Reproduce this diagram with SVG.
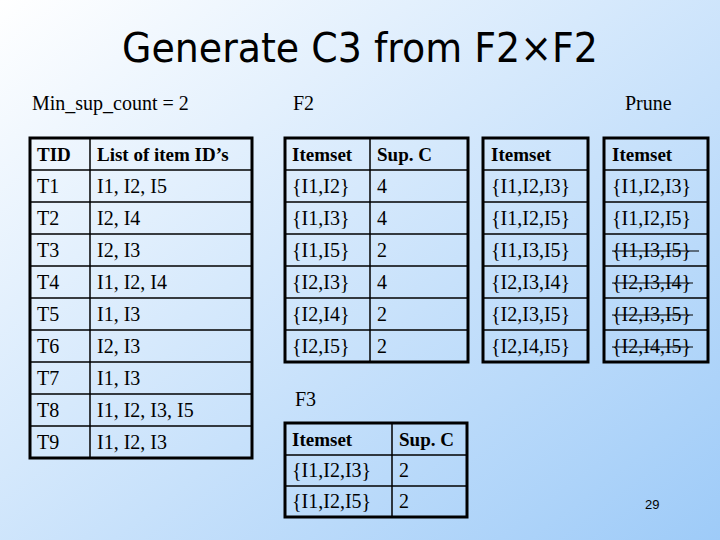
<svg xmlns="http://www.w3.org/2000/svg" width="720" height="540" viewBox="0 0 720 540">
<defs>
<linearGradient id="bg" x1="0" y1="0" x2="1" y2="1">
<stop offset="0" stop-color="#ffffff"/><stop offset="1" stop-color="#9ecbf8"/>
</linearGradient>
<style>
.t{font-family:"Liberation Serif",serif;font-size:20px;fill:#000}
.h{font-weight:bold;font-size:19px}
.o{fill:none;stroke:#000;stroke-width:3}
.g{stroke:#000;stroke-width:1.5}
.s{stroke:#000;stroke-width:1.2}
</style>
</defs>
<rect width="720" height="540" fill="url(#bg)"/>
<text x="360" y="62" text-anchor="middle" font-family="DejaVu Sans,sans-serif" font-size="40" textLength="476" lengthAdjust="spacingAndGlyphs">Generate C3 from F2×F2</text>
<text class="t" x="32" y="110" font-size="19">Min_sup_count = 2</text>
<text class="t" x="293" y="110">F2</text>
<text class="t" x="625" y="110">Prune</text>
<text class="t" x="295" y="406">F3</text>
<text x="645" y="509" font-family="Liberation Sans,sans-serif" font-size="13">29</text>

<g id="tid-table">
<rect class="o" x="30" y="138" width="222" height="320"/>
<g class="g"><line x1="90" y1="138" x2="90" y2="458"/>
<line x1="30" y1="170" x2="252" y2="170"/><line x1="30" y1="202" x2="252" y2="202"/><line x1="30" y1="234" x2="252" y2="234"/><line x1="30" y1="266" x2="252" y2="266"/><line x1="30" y1="298" x2="252" y2="298"/><line x1="30" y1="330" x2="252" y2="330"/><line x1="30" y1="362" x2="252" y2="362"/><line x1="30" y1="394" x2="252" y2="394"/><line x1="30" y1="426" x2="252" y2="426"/></g>
<text class="t h" x="37" y="161">TID</text><text class="t h" x="97" y="161">List of item ID’s</text>
<text class="t" x="37" y="193">T1</text><text class="t" x="97" y="193">I1, I2, I5</text>
<text class="t" x="37" y="225">T2</text><text class="t" x="97" y="225">I2, I4</text>
<text class="t" x="37" y="257">T3</text><text class="t" x="97" y="257">I2, I3</text>
<text class="t" x="37" y="289">T4</text><text class="t" x="97" y="289">I1, I2, I4</text>
<text class="t" x="37" y="321">T5</text><text class="t" x="97" y="321">I1, I3</text>
<text class="t" x="37" y="353">T6</text><text class="t" x="97" y="353">I2, I3</text>
<text class="t" x="37" y="385">T7</text><text class="t" x="97" y="385">I1, I3</text>
<text class="t" x="37" y="417">T8</text><text class="t" x="97" y="417">I1, I2, I3, I5</text>
<text class="t" x="37" y="449">T9</text><text class="t" x="97" y="449">I1, I2, I3</text>
</g>

<g id="f2-table">
<rect class="o" x="285" y="138" width="183" height="224"/>
<g class="g"><line x1="370" y1="138" x2="370" y2="362"/>
<line x1="285" y1="170" x2="468" y2="170"/><line x1="285" y1="202" x2="468" y2="202"/><line x1="285" y1="234" x2="468" y2="234"/><line x1="285" y1="266" x2="468" y2="266"/><line x1="285" y1="298" x2="468" y2="298"/><line x1="285" y1="330" x2="468" y2="330"/></g>
<text class="t h" x="292" y="161">Itemset</text><text class="t h" x="377" y="161">Sup. C</text>
<text class="t" x="292" y="193">{I1,I2}</text><text class="t" x="377" y="193">4</text>
<text class="t" x="292" y="225">{I1,I3}</text><text class="t" x="377" y="225">4</text>
<text class="t" x="292" y="257">{I1,I5}</text><text class="t" x="377" y="257">2</text>
<text class="t" x="292" y="289">{I2,I3}</text><text class="t" x="377" y="289">4</text>
<text class="t" x="292" y="321">{I2,I4}</text><text class="t" x="377" y="321">2</text>
<text class="t" x="292" y="353">{I2,I5}</text><text class="t" x="377" y="353">2</text>
</g>

<g id="c3-table">
<rect class="o" x="483" y="138" width="105" height="224"/>
<g class="g"><line x1="483" y1="170" x2="588" y2="170"/><line x1="483" y1="202" x2="588" y2="202"/><line x1="483" y1="234" x2="588" y2="234"/><line x1="483" y1="266" x2="588" y2="266"/><line x1="483" y1="298" x2="588" y2="298"/><line x1="483" y1="330" x2="588" y2="330"/></g>
<text class="t h" x="491" y="161">Itemset</text>
<text class="t" x="491" y="193">{I1,I2,I3}</text>
<text class="t" x="491" y="225">{I1,I2,I5}</text>
<text class="t" x="491" y="257">{I1,I3,I5}</text>
<text class="t" x="491" y="289">{I2,I3,I4}</text>
<text class="t" x="491" y="321">{I2,I3,I5}</text>
<text class="t" x="491" y="353">{I2,I4,I5}</text>
</g>

<g id="prune-table">
<rect class="o" x="604" y="138" width="104" height="224"/>
<g class="g"><line x1="604" y1="170" x2="708" y2="170"/><line x1="604" y1="202" x2="708" y2="202"/><line x1="604" y1="234" x2="708" y2="234"/><line x1="604" y1="266" x2="708" y2="266"/><line x1="604" y1="298" x2="708" y2="298"/><line x1="604" y1="330" x2="708" y2="330"/></g>
<text class="t h" x="612" y="161">Itemset</text>
<text class="t" x="612" y="193">{I1,I2,I3}</text>
<text class="t" x="612" y="225">{I1,I2,I5}</text>
<text class="t" x="612" y="257">{I1,I3,I5}</text>
<text class="t" x="612" y="289">{I2,I3,I4}</text>
<text class="t" x="612" y="321">{I2,I3,I5}</text>
<text class="t" x="612" y="353">{I2,I4,I5}</text>
<g class="s"><line x1="612" y1="251" x2="699" y2="251"/><line x1="612" y1="283" x2="693" y2="283"/><line x1="612" y1="315" x2="693" y2="315"/><line x1="612" y1="347" x2="693" y2="347"/></g>
</g>

<g id="f3-table">
<rect class="o" x="285" y="423" width="182" height="94"/>
<g class="g"><line x1="392" y1="423" x2="392" y2="517"/><line x1="285" y1="455" x2="467" y2="455"/><line x1="285" y1="486" x2="467" y2="486"/></g>
<text class="t h" x="292" y="446">Itemset</text><text class="t h" x="399" y="446">Sup. C</text>
<text class="t" x="292" y="477">{I1,I2,I3}</text><text class="t" x="399" y="477">2</text>
<text class="t" x="292" y="508">{I1,I2,I5}</text><text class="t" x="399" y="508">2</text>
</g>
</svg>
